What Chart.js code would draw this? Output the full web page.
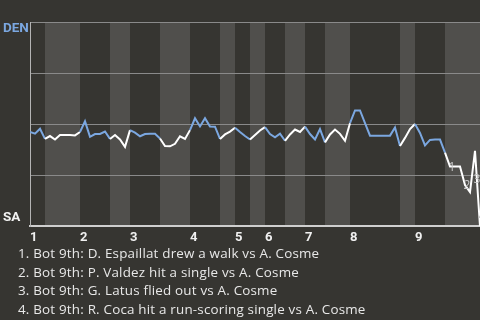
<!DOCTYPE html>
<html lang="en">
<head>
    <meta charset="UTF-8">
    <title>Win probability</title>
    <style>
        html, body { margin: 0; padding: 0; background: #363531; }
        body { width: 480px; height: 320px; overflow: hidden; position: relative; }
        #wrap { position: absolute; left: 0; top: 0; width: 480px; height: 250px; }
        #plays { position: absolute; left: 18px; top: 244px; margin: 0; padding: 0; list-style: none;
                 font: 13.4px "Open Sans", sans-serif; letter-spacing: 0.2px; line-height: 18.6px; color: #e8e8e8; }
    </style>
</head>
<body>
    <script src="https://cdn.jsdelivr.net/npm/chart.js@4/dist/chart.umd.min.js"></script>
    <div id="wrap"><canvas id="wp"></canvas></div>
    <ul id="plays"></ul>
    <script>
        // DEN win probability after each play (0 = SA wins, 1 = DEN wins)
        var winProb = [
            0.462, 0.454, 0.478, 0.428, 0.442, 0.425, 0.447, 0.447, 0.447, 0.445,
            0.462, 0.514, 0.438, 0.452, 0.452, 0.464, 0.428, 0.447, 0.425, 0.389,
            0.471, 0.459, 0.441, 0.452, 0.453, 0.453, 0.430, 0.393, 0.392, 0.404,
            0.441, 0.428, 0.471, 0.529, 0.489, 0.529, 0.489, 0.488, 0.428, 0.450,
            0.464, 0.483, 0.462, 0.442, 0.425, 0.447, 0.469, 0.486, 0.452, 0.436,
            0.454, 0.419, 0.450, 0.474, 0.462, 0.488, 0.452, 0.425, 0.476, 0.411,
            0.450, 0.474, 0.453, 0.419, 0.505, 0.567, 0.567, 0.505, 0.444, 0.444,
            0.444, 0.444, 0.444, 0.484, 0.393, 0.433, 0.476, 0.501, 0.457, 0.396,
            0.423, 0.425, 0.425, 0.361, 0.293, 0.293, 0.293, 0.202, 0.168, 0.370,
            0.000
        ];
        // play index where each half inning starts (top 1st, bot 1st, ...) and the end
        var halfInnings = [0, 3, 10, 16, 20, 26, 32, 38, 41, 44, 47, 51, 55, 59, 64, 74, 77, 83, 90];
        var inningLabels = ['1', '2', '3', '4', '5', '6', '7', '8', '9'];
        var teamLabels = ['DEN', 'SA'];

        // key plays of the last half inning
        var keyPlayX = [84.4, 87.4, 89.4, 90.4];
        var keyPlayY = [0.288, 0.202, 0.231, 0.05];
        var keyPlays = [
            'Bot 9th: D. Espaillat drew a walk vs A. Cosme',
            'Bot 9th: P. Valdez hit a single vs A. Cosme',
            'Bot 9th: G. Latus flied out vs A. Cosme',
            'Bot 9th: R. Coca hit a run-scoring single vs A. Cosme'
        ];

        var BLUE = '#7ba7e0';
        var WHITE = '#ffffff';
        var BAND = '#504f4c';

        var inningStarts = halfInnings.filter(function (v, i) { return i % 2 === 0 && i < 18; });

        function halfOf(x) {
            for (var j = 0; j < halfInnings.length - 1; j++) {
                if (x >= halfInnings[j] && x < halfInnings[j + 1]) return j;
            }
            return halfInnings.length - 2;
        }

        var bands = {
            id: 'bands',
            beforeDraw: function (chart) {
                var c = chart.ctx, a = chart.chartArea, xs = chart.scales.x;
                c.save();
                c.fillStyle = BAND;
                for (var j = 1; j < halfInnings.length - 1; j += 2) {
                    var x0 = xs.getPixelForValue(halfInnings[j]);
                    var x1 = xs.getPixelForValue(halfInnings[j + 1]);
                    c.fillRect(x0, a.top, x1 - x0, a.bottom - a.top);
                }
                c.restore();
            },
            afterDraw: function (chart) {
                var c = chart.ctx, xs = chart.scales.x, ys = chart.scales.y;
                c.save();
                c.font = 'bold 13.5px Roboto, sans-serif';
                c.textBaseline = 'middle';
                c.textAlign = 'left';
                c.fillStyle = BLUE;
                c.fillText(teamLabels[0], 3, ys.getPixelForValue(1) + 7);
                c.fillStyle = '#f2f2f2';
                c.fillText(teamLabels[1], 3, ys.getPixelForValue(0) - 9);

                c.font = '12px "Open Sans", sans-serif';
                c.textAlign = 'center';
                c.fillStyle = '#c8c8c8';
                keyPlayX.forEach(function (x, i) {
                    c.fillText(String(i + 1), xs.getPixelForValue(x), ys.getPixelForValue(keyPlayY[i]));
                });
                c.restore();
            }
        };

        var list = document.getElementById('plays');
        keyPlays.forEach(function (t, i) {
            var li = document.createElement('li');
            li.textContent = (i + 1) + '. ' + t;
            list.appendChild(li);
        });

        window.onload = function () {
            new Chart(document.getElementById('wp'), {
                type: 'line',
                data: {
                    datasets: [{
                        data: winProb.map(function (v, i) { return { x: i, y: v }; }),
                        borderWidth: 2,
                        pointRadius: 0,
                        tension: 0,
                        segment: {
                            borderColor: function (ctx) {
                                return halfOf(ctx.p0DataIndex + 0.5) % 2 === 0 ? BLUE : WHITE;
                            }
                        }
                    }]
                },
                options: {
                    animation: false,
                    responsive: true,
                    maintainAspectRatio: false,
                    layout: { padding: { left: 30, top: 22, right: 0, bottom: 0 } },
                    plugins: { legend: { display: false }, tooltip: { enabled: false } },
                    scales: {
                        x: {
                            type: 'linear',
                            min: 0,
                            max: 90,
                            grid: { display: false, drawTicks: false },
                            border: { color: '#cfcfcf', width: 2 },
                            afterBuildTicks: function (scale) {
                                scale.ticks = inningStarts.map(function (v) { return { value: v }; });
                            },
                            ticks: {
                                autoSkip: false,
                                maxRotation: 0,
                                align: 'start',
                                padding: 4,
                                color: '#f0f0f0',
                                font: { family: 'Roboto', size: 13, weight: 'bold' },
                                callback: function (value) {
                                    return inningLabels[inningStarts.indexOf(value)];
                                }
                            }
                        },
                        y: {
                            min: 0,
                            max: 1,
                            ticks: { display: false, stepSize: 0.25 },
                            grid: { color: '#8a8a8a', drawTicks: false },
                            border: { color: '#b4b4b4', width: 1 }
                        }
                    }
                },
                plugins: [bands]
            });
        };
    </script>
</body>
</html>
